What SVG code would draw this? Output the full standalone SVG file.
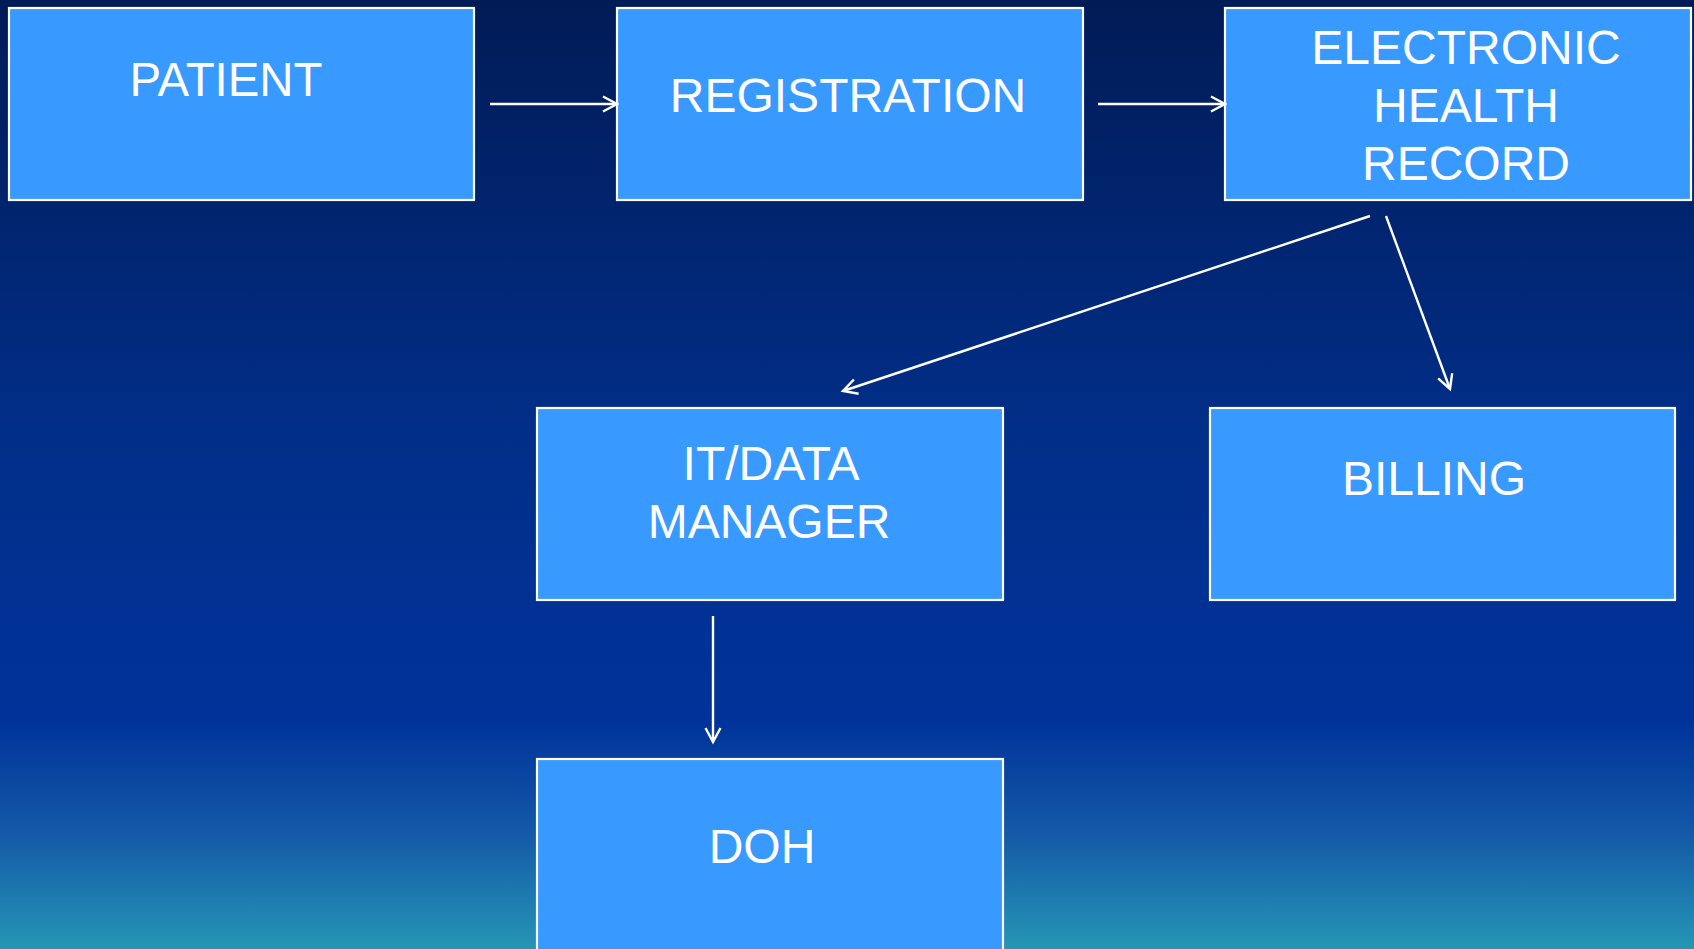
<svg xmlns="http://www.w3.org/2000/svg" width="1694" height="949" viewBox="0 0 1694 949">
<defs>
<linearGradient id="bg" x1="0" y1="0" x2="0" y2="1">
<stop offset="0" stop-color="#011b56"/>
<stop offset="0.45" stop-color="#012e88"/>
<stop offset="0.76" stop-color="#00339a"/>
<stop offset="0.88" stop-color="#145aa8"/>
<stop offset="1" stop-color="#2596b5"/>
</linearGradient>
<marker id="arr" markerWidth="20" markerHeight="20" refX="17" refY="10" orient="auto" markerUnits="userSpaceOnUse">
<path d="M3,2.5 L17,10 L3,17.5" fill="none" stroke="#ffffff" stroke-width="2.4"/>
</marker>
</defs>
<style>
.box{fill:#3899fe;stroke:#ffffff;stroke-width:2.2}
.lbl{fill:#ffffff;font-family:"Liberation Sans",Arial,sans-serif;font-size:48px;text-anchor:middle}
.con{stroke:#ffffff;stroke-width:2.4;fill:none;marker-end:url(#arr)}
</style>
<rect x="0" y="0" width="1694" height="949" fill="url(#bg)"/>
<g id="patient">
<rect class="box" x="9" y="8" width="465" height="192"/>
<text class="lbl" x="226" y="96" textLength="193" lengthAdjust="spacingAndGlyphs">PATIENT</text>
</g>
<g id="registration">
<rect class="box" x="617" y="8" width="466" height="192"/>
<text class="lbl" x="848" y="112">REGISTRATION</text>
</g>
<g id="ehr">
<rect class="box" x="1225" y="8" width="466" height="192"/>
<text class="lbl" x="1466" y="64">ELECTRONIC</text>
<text class="lbl" x="1466" y="122">HEALTH</text>
<text class="lbl" x="1466" y="180">RECORD</text>
</g>
<g id="itdata">
<rect class="box" x="537" y="408" width="466" height="192"/>
<text class="lbl" x="771" y="480">IT/DATA</text>
<text class="lbl" x="769" y="538">MANAGER</text>
</g>
<g id="billing">
<rect class="box" x="1210" y="408" width="465" height="192"/>
<text class="lbl" x="1434" y="495">BILLING</text>
</g>
<g id="doh">
<rect class="box" x="537" y="759" width="466" height="200"/>
<text class="lbl" x="762" y="863">DOH</text>
</g>
<g id="connectors">
<line class="con" x1="490" y1="104" x2="617" y2="104"/>
<line class="con" x1="1098" y1="104" x2="1225" y2="104"/>
<line class="con" x1="1370" y1="216" x2="843" y2="391"/>
<line class="con" x1="1386" y1="216" x2="1450" y2="389"/>
<line class="con" x1="713" y1="616" x2="713" y2="742"/>
</g>
</svg>
